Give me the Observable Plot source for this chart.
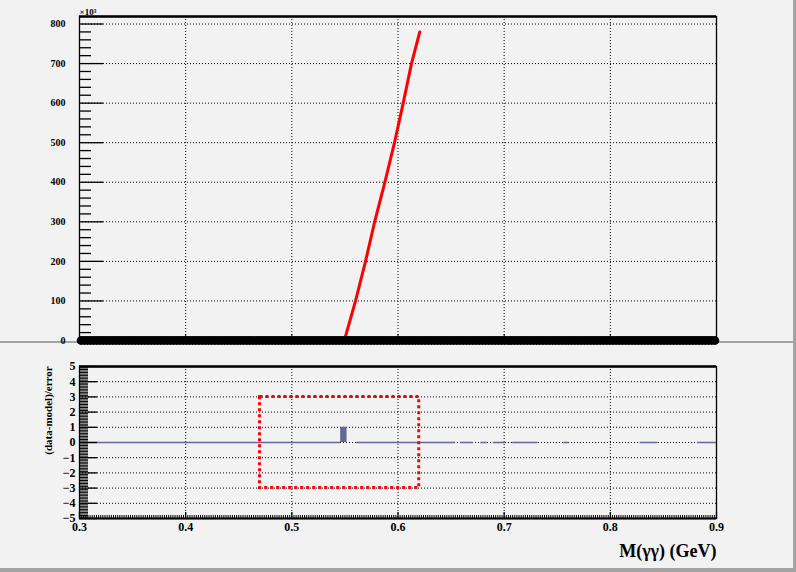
<!DOCTYPE html>
<html>
<head>
<meta charset="utf-8">
<script src="https://cdn.jsdelivr.net/npm/d3@7"></script>
<script src="https://cdn.jsdelivr.net/npm/@observablehq/plot@0.6"></script>
<style>
  html, body { margin: 0; padding: 0; background: #f2f2f2; }
  #canvas { position: relative; width: 796px; height: 572px; background: #f2f2f2; overflow: hidden; }
  .pad { position: absolute; left: 0; }
  .pad svg { overflow: visible; }
  .border { position: absolute; background: #a3a3a3; }
</style>
</head>
<body>
<div id="canvas">
  <div class="border" style="left:0;top:341px;width:796px;height:2px"></div>
  <div class="border" style="left:793px;top:0;width:3px;height:343px"></div>
  <div class="border" style="left:793px;top:343px;width:3px;height:229px"></div>
  <div class="border" style="left:0;top:568px;width:796px;height:4px"></div>
  <div id="top" class="pad" style="top:0"></div>
  <div id="bottom" class="pad" style="top:343px"></div>
</div>
<script>
// ---------- data ----------
const massLo = 0.3, massHi = 0.9;
const binWidth = 0.003;
// observed counts per bin (all at zero)
const counts = [
  0,0,0,0,0,0,0,0,0,0, 0,0,0,0,0,0,0,0,0,0, 0,0,0,0,0,0,0,0,0,0, 0,0,0,0,0,0,0,0,0,0,
  0,0,0,0,0,0,0,0,0,0, 0,0,0,0,0,0,0,0,0,0, 0,0,0,0,0,0,0,0,0,0, 0,0,0,0,0,0,0,0,0,0,
  0,0,0,0,0,0,0,0,0,0, 0,0,0,0,0,0,0,0,0,0, 0,0,0,0,0,0,0,0,0,0, 0,0,0,0,0,0,0,0,0,0,
  0,0,0,0,0,0,0,0,0,0, 0,0,0,0,0,0,0,0,0,0, 0,0,0,0,0,0,0,0,0,0, 0,0,0,0,0,0,0,0,0,0,
  0,0,0,0,0,0,0,0,0,0, 0,0,0,0,0,0,0,0,0,0, 0,0,0,0,0,0,0,0,0,0, 0,0,0,0,0,0,0,0,0,0
];
// model curve (×10^3)
const modelMass  = [0.5500, 0.5600, 0.5694, 0.5780, 0.5876, 0.5967, 0.6049, 0.6127, 0.6205];
const modelYield = [5, 100, 200, 300, 400, 500, 600, 700, 780];
const topYMax = 819;
const topYTicks = [0, 100, 200, 300, 400, 500, 600, 700, 800];
const massTicks = [0.3, 0.4, 0.5, 0.6, 0.7, 0.8, 0.9];
const gridMass = [0.4, 0.5, 0.6, 0.7, 0.8];
// pulls
const pullBarLo = [0.546];
const pullBarHi = [0.552];
const pullBarVal = [1.0];
const zeroPullLo = [0.300, 0.561, 0.659, 0.678, 0.690, 0.708, 0.756, 0.828, 0.882];
const zeroPullHi = [0.546, 0.654, 0.671, 0.684, 0.701, 0.732, 0.761, 0.845, 0.900];
const pullTicks = [-5, -4, -3, -2, -1, 0, 1, 2, 3, 4, 5];
const pullGrid = [-4, -3, -2, -1, 1, 2, 3, 4];
const boxLo = 0.47, boxHi = 0.62, boxBottom = -3, boxTop = 3;
const yTitle = "(data-model)/error";
const xTitle = "M(γγ) (GeV)";
const topMultiplier = "×10³";

// ---------- derived tables ----------
const points = counts.map((c, i) => ({x: massLo + (i + 0.5) * binWidth, y: c}));
const model = modelMass.map((m, i) => ({x: m, y: modelYield[i]}));
const bars = pullBarLo.map((lo, i) => ({lo, hi: pullBarHi[i], v: pullBarVal[i]}));
const zeros = zeroPullLo.map((lo, i) => ({lo, hi: zeroPullHi[i]}));
const minorTop = d3.range(0, topYMax, 20).filter(v => v % 100 !== 0);
const minorPull = d3.range(-50, 51).map(v => v / 10).filter(v => !Number.isInteger(v));
const minorMass = d3.range(150, 451).map(v => v / 500).filter(v => Math.abs(v * 10 - Math.round(v * 10)) > 1e-6);

const font = "'Liberation Serif', 'DejaVu Serif', serif";
const dot = "1,2";

const topPlot = Plot.plot({
  width: 796, height: 343,
  marginLeft: 79, marginRight: 80, marginTop: 16, marginBottom: 3,
  style: {background: "transparent", fontFamily: font, fontWeight: "bold", overflow: "visible"},
  x: {domain: [massLo, massHi]},
  y: {domain: [0, topYMax]},
  marks: [
    Plot.gridY(topYTicks, {stroke: "black", strokeOpacity: 1, strokeDasharray: dot}),
    Plot.gridX(gridMass, {stroke: "black", strokeOpacity: 1, strokeDasharray: dot}),
    Plot.frame({stroke: "black", strokeWidth: 1.3}),
    Plot.ruleY([topYMax], {stroke: "black", strokeWidth: 2.5}),
    Plot.axisY(topYTicks, {anchor: "left", tickSize: -24, tickFormat: () => "", label: null, strokeWidth: 1.3}),
    Plot.axisY(minorTop, {anchor: "left", tickSize: -12, tickFormat: () => "", label: null, strokeWidth: 1.3}),
    Plot.axisY(topYTicks, {anchor: "left", tickSize: 0, tickPadding: 14, label: null, fontSize: 10, fontWeight: "bold", fontFamily: font}),
    Plot.axisX(massTicks, {anchor: "bottom", tickSize: -6, tickFormat: () => "", label: null}),
    Plot.text([topMultiplier], {frameAnchor: "top-left", textAnchor: "start", lineAnchor: "bottom", dy: -2, fontSize: 9, fontWeight: "bold"}),
    Plot.line(model, {x: "x", y: "y", stroke: "#ff0000", strokeWidth: 3}),
    Plot.dot(points, {x: "x", y: "y", r: 4.4, fill: "black", stroke: "none"})
  ]
});
document.getElementById("top").append(topPlot);

const bottomPlot = Plot.plot({
  width: 796, height: 229,
  marginLeft: 79, marginRight: 80, marginTop: 23, marginBottom: 54,
  style: {background: "transparent", fontFamily: font, fontWeight: "bold", overflow: "visible"},
  x: {domain: [massLo, massHi]},
  y: {domain: [-5, 5]},
  marks: [
    Plot.gridY(pullGrid, {stroke: "black", strokeOpacity: 1, strokeDasharray: dot}),
    Plot.ruleY([0], {stroke: "black", strokeDasharray: dot}),
    Plot.gridX(gridMass, {stroke: "black", strokeOpacity: 1, strokeDasharray: dot}),
    Plot.ruleY(zeros, {x1: "lo", x2: "hi", y: 0, stroke: "#666699", strokeWidth: 1.5}),
    Plot.rectY(bars, {x1: "lo", x2: "hi", y: "v", fill: "#666699"}),
    Plot.rect([{x1: boxLo, x2: boxHi, y1: boxBottom, y2: boxTop}], {x1: "x1", x2: "x2", y1: "y1", y2: "y2", fill: "none", stroke: "#ff0000", strokeWidth: 3, strokeDasharray: "3,3"}),
    Plot.frame({stroke: "black", strokeWidth: 1.3}),
    Plot.ruleY([5], {stroke: "black", strokeWidth: 2.5}),
    Plot.ruleY([-5], {stroke: "black", strokeWidth: 2}),
    Plot.axisY(pullTicks, {anchor: "left", tickSize: -18, tickFormat: () => "", label: null, strokeWidth: 1.3}),
    Plot.axisY(minorPull, {anchor: "left", tickSize: -9, tickFormat: () => "", label: null}),
    Plot.axisY(pullTicks, {anchor: "left", tickSize: 0, tickPadding: 4, label: null, fontSize: 12, fontWeight: "bold", fontFamily: font,
      tickFormat: d => d < 0 ? "\u2212" + (-d) : String(d)}),
    Plot.axisX(massTicks, {anchor: "bottom", tickSize: -6, tickFormat: () => "", label: null, strokeWidth: 1.3}),
    Plot.axisX(minorMass, {anchor: "bottom", tickSize: -3, tickFormat: () => "", label: null}),
    Plot.axisX(massTicks, {anchor: "bottom", tickSize: 0, tickPadding: 4, label: null, fontSize: 12, fontWeight: "bold", fontFamily: font,
      tickFormat: d => d.toFixed(1)}),
    Plot.text([yTitle], {frameAnchor: "left", textAnchor: "middle", lineAnchor: "middle", rotate: -90, dx: -31, dy: -32, fontSize: 11, fontWeight: "bold"}),
    Plot.text([xTitle], {frameAnchor: "bottom-right", textAnchor: "end", lineAnchor: "bottom", dy: 38, fontSize: 18, fontWeight: "bold"})
  ]
});
document.getElementById("bottom").append(bottomPlot);
</script>
</body>
</html>
